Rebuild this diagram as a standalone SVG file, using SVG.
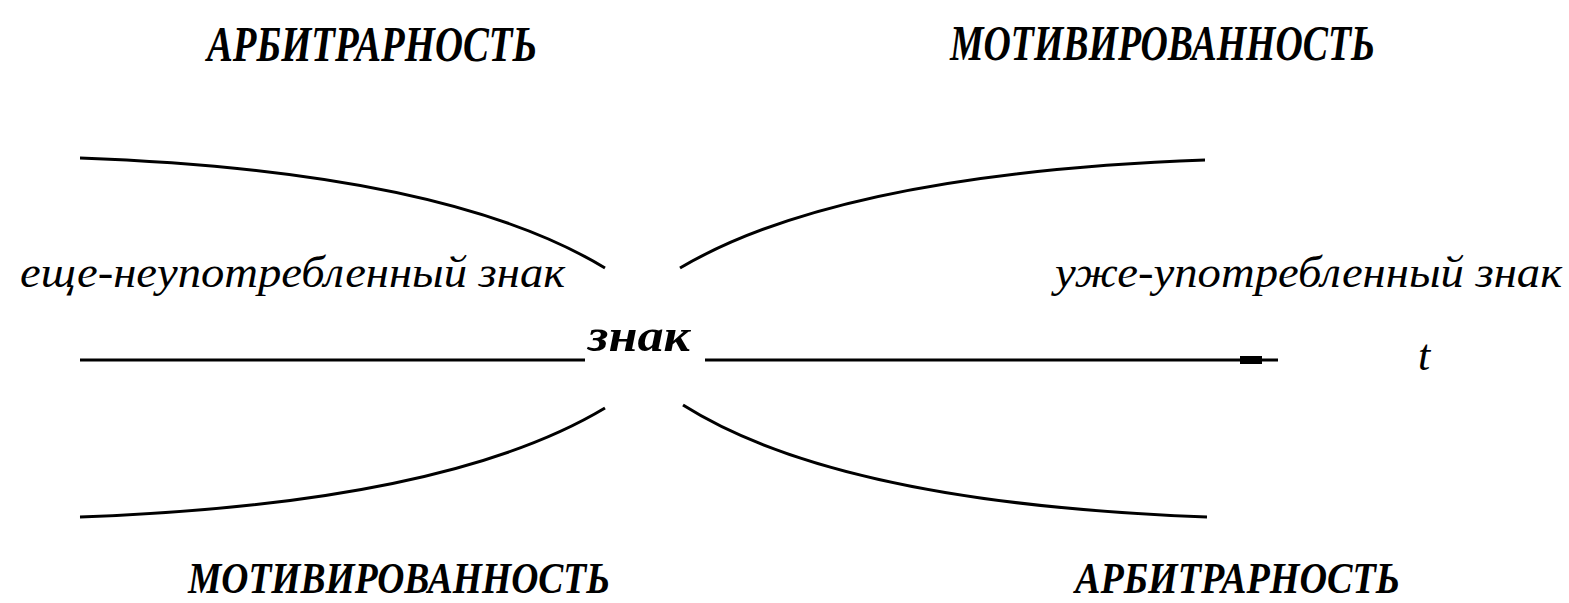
<svg xmlns="http://www.w3.org/2000/svg" width="1569" height="603" viewBox="0 0 1569 603">
<style>
.cap{font-family:"Liberation Serif","DejaVu Serif",serif;font-weight:bold;font-style:italic;font-size:50px;fill:#000}
.capb{font-family:"Liberation Serif","DejaVu Serif",serif;font-weight:bold;font-style:italic;font-size:44px;fill:#000}
.lab{font-family:"Liberation Serif","DejaVu Serif",serif;font-style:italic;font-size:44px;fill:#000}
.ctr{font-family:"Liberation Serif","DejaVu Serif",serif;font-weight:bold;font-style:italic;font-size:46px;fill:#000}
.ln{fill:none;stroke:#000;stroke-width:3;stroke-linecap:butt}
</style>
<rect width="1569" height="603" fill="#fff"/>
<g id="arb-top"><text class="cap" x="207" y="61" textLength="330" lengthAdjust="spacingAndGlyphs">АРБИТРАРНОСТЬ</text></g>
<g id="mot-top"><text class="cap" x="950" y="60" textLength="425" lengthAdjust="spacingAndGlyphs">МОТИВИРОВАННОСТЬ</text></g>
<g id="unused"><text class="lab" x="20" y="287" textLength="545" lengthAdjust="spacingAndGlyphs">еще-неупотребленный знак</text></g>
<g id="used"><text class="lab" x="1055" y="287" textLength="507" lengthAdjust="spacingAndGlyphs">уже-употребленный знак</text></g>
<g id="sign"><text class="ctr" x="588" y="351" textLength="102" lengthAdjust="spacingAndGlyphs">знак</text></g>
<g id="time"><text class="lab" x="1418" y="370" font-size="40">t</text></g>
<g id="mot-bottom"><text class="capb" x="188" y="593" textLength="422" lengthAdjust="spacingAndGlyphs">МОТИВИРОВАННОСТЬ</text></g>
<g id="arb-bottom"><text class="capb" x="1075" y="593" textLength="325" lengthAdjust="spacingAndGlyphs">АРБИТРАРНОСТЬ</text></g>
<g id="connectors">
<path class="ln" d="M80,158 C300,166 490,198 605,268"/>
<path class="ln" d="M1205,160 C985,168 795,200 680,268"/>
<path class="ln" d="M80,517 C300,509 490,477 605,408"/>
<path class="ln" d="M1207,517 C987,509 797,477 683,405"/>
<path class="ln" d="M80,360 H585"/>
<path class="ln" d="M705,360 H1278"/>
<rect x="1240" y="356" width="22" height="8" fill="#000"/>
</g>
</svg>
